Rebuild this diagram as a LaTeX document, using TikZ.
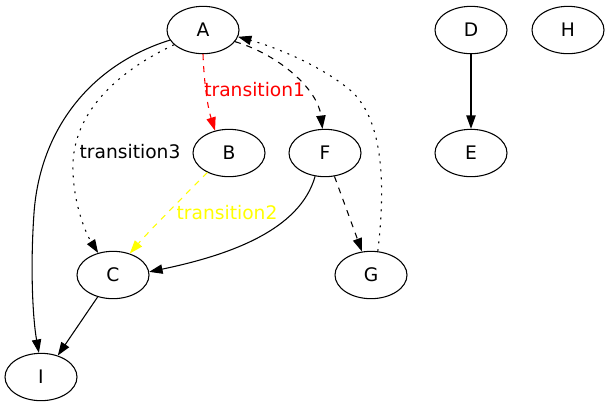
\documentclass[tikz,border=0pt]{standalone}
\usepackage{fontspec}
\setmainfont{DejaVu Sans}
\usetikzlibrary{arrows.meta,shapes.geometric}
\definecolor{yel}{RGB}{255,255,0}
\begin{document}
\begin{tikzpicture}[x=0.75pt,y=-0.75pt,
  st/.style={draw,ellipse,minimum width=54pt,minimum height=35.5pt,inner sep=0pt,font=\fontsize{14pt}{16pt}\selectfont,line width=0.8pt},
  ed/.style={line width=0.8pt,-{Triangle[length=10pt,width=7pt]}},
  dsh/.style={dash pattern=on 4.5pt off 4.5pt},
  dtt/.style={dash pattern=on 1.5pt off 4.5pt},
  lbl/.style={font=\fontsize{14pt}{16pt}\selectfont,inner sep=0pt}]
\useasboundingbox (0,0) rectangle (609,408);
\node[st] (A) at (203,30) {A};
\node[st] (B) at (229,153) {B};
\node[st] (F) at (325,153) {F};
\node[st] (C) at (113,275) {C};
\node[st] (G) at (371,275) {G};
\node[st] (I) at (41,377) {I};
\node[st] (D) at (471,30) {D};
\node[st] (E) at (471,153) {E};
\node[st] (H) at (568,30) {H};
% A -> I
\draw[ed] (A.197) .. controls (90,65) and (40,130) .. (34,213) .. controls (30,270) and (33,320) .. (I.95);
% A -> C
\draw[ed,dtt] (A.207) .. controls (120,70) and (75,110) .. (73,163) .. controls (72,200) and (85,232) .. (C.124);
\node[lbl,anchor=center] (t3) at (130,152) {transition3};
% A -> B
\draw[ed,dsh,red] (A.south) .. controls (204,80) and (207,105) .. (B.122);
\node[lbl,anchor=west,text=red] (t1) at (204,90) {transition1};
% A -> F
\draw[ed,dsh] (A.340) .. controls (280,55) and (318,90) .. (F.96);
% G -> A
\draw[ed,dtt] (G.74) .. controls (385,190) and (385,120) .. (350,90) .. controls (320,65) and (275,47) .. (A.349);
% B -> C
\draw[ed,dsh,yel] (B.222) .. controls (185,195) and (150,230) .. (C.52);
\node[lbl,anchor=center,text=yel] (t2) at (227,213) {transition2};
% F -> C
\draw[ed] (F.247) .. controls (300,230) and (230,255) .. (C.5);
% F -> G
\draw[ed,dsh] (F.292) -- (G.111);
% C -> I
\draw[ed] (C.235) -- (I.52);
% D -> E
\draw[ed] (D.south) -- (E.north);
\end{tikzpicture}
\end{document}
